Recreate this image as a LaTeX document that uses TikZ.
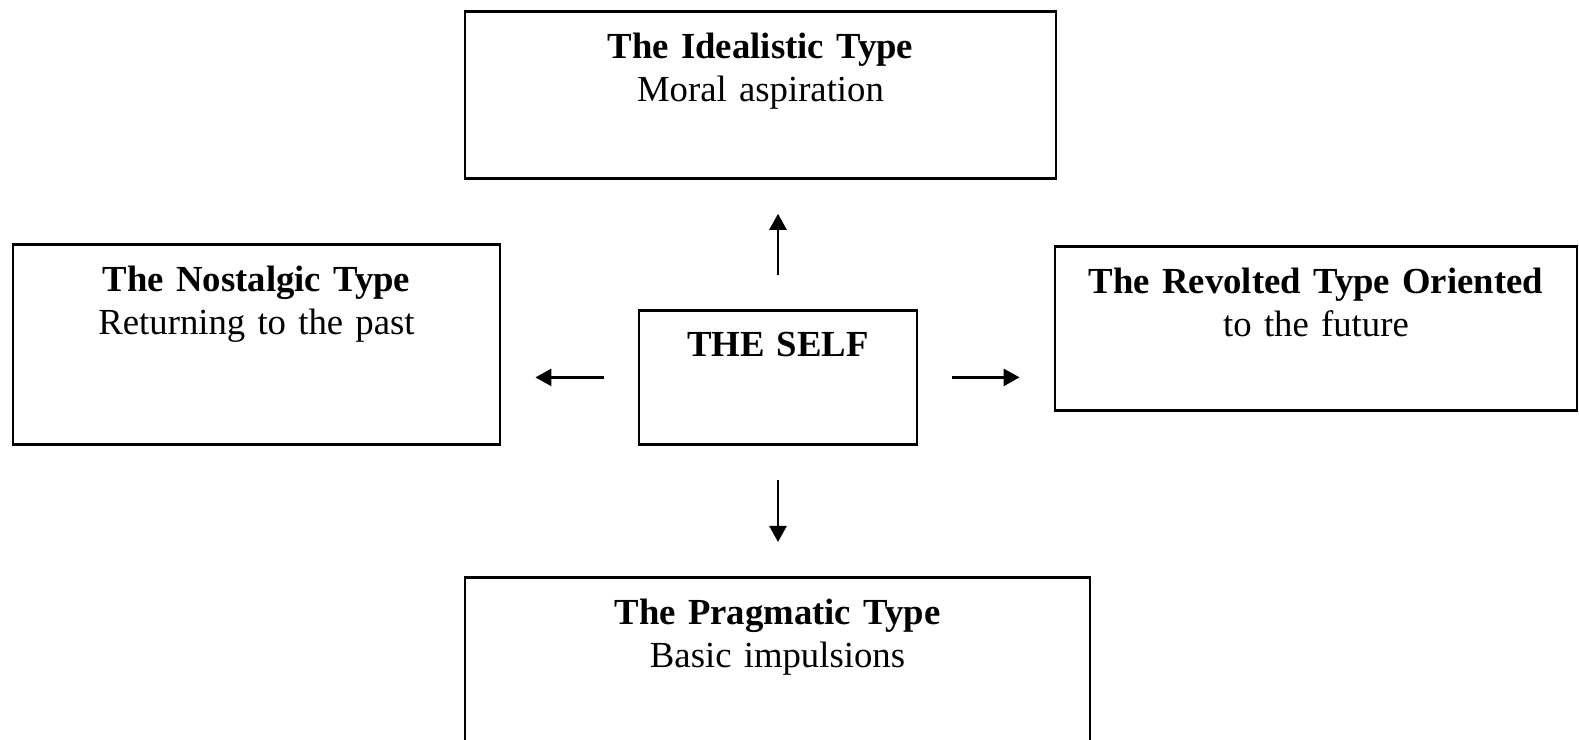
\documentclass[tikz,border=0pt]{standalone}
\usepackage{fontspec}
\setmainfont{Liberation Serif}
\usetikzlibrary{arrows.meta}

\begin{document}
\begin{tikzpicture}[scale=1.0000]
	\tikzstyle{every node}=[scale=1.0000]
	\tikzstyle{typebox}=[draw, line width=0.8pt, inner sep=0pt, anchor=north, align=center, font=\fontsize{10.45pt}{12.3pt}\selectfont]
	\tikzstyle{arr}=[-{Triangle[length=0.16cm,width=0.17cm]}, line width=0.75pt, shorten <=0.34cm, shorten >=0.34cm]

	\clip (0.0000,0.0000) rectangle (15.7900,-7.4000);

	\node [typebox, text width=5.9100cm, text height=0.4700cm, text depth=1.2000cm] (ideal) at (7.6050,-0.1000) {\textbf{The Idealistic Type}\\Moral aspiration};
	\node [typebox, text width=4.8700cm, text height=0.4700cm, text depth=1.5300cm] (nost) at (2.5650,-2.4300) {\textbf{The Nostalgic Type}\\Returning to the past};
	\node [typebox, text width=5.2200cm, text height=0.4700cm, text depth=1.1700cm] (revo) at (13.1600,-2.4500) {\textbf{The Revolted Type Oriented}\\to the future};
	\node [typebox, text width=2.7800cm, text height=0.4600cm, text depth=0.8800cm] (self) at (7.7800,-3.0900) {\textbf{THE SELF}};
	\node [typebox, text width=6.2500cm, text height=0.4700cm, text depth=1.6000cm] (prag) at (7.7750,-5.7600) {\textbf{The Pragmatic Type}\\Basic impulsions};

	\draw [arr] (self.north) -- (self.north |- ideal.south);
	\draw [arr] (self.west) -- (self.west -| nost.east);
	\draw [arr] (self.east) -- (self.east -| revo.west);
	\draw [arr] (self.south) -- (self.south |- prag.north);

\end{tikzpicture}
\end{document}
